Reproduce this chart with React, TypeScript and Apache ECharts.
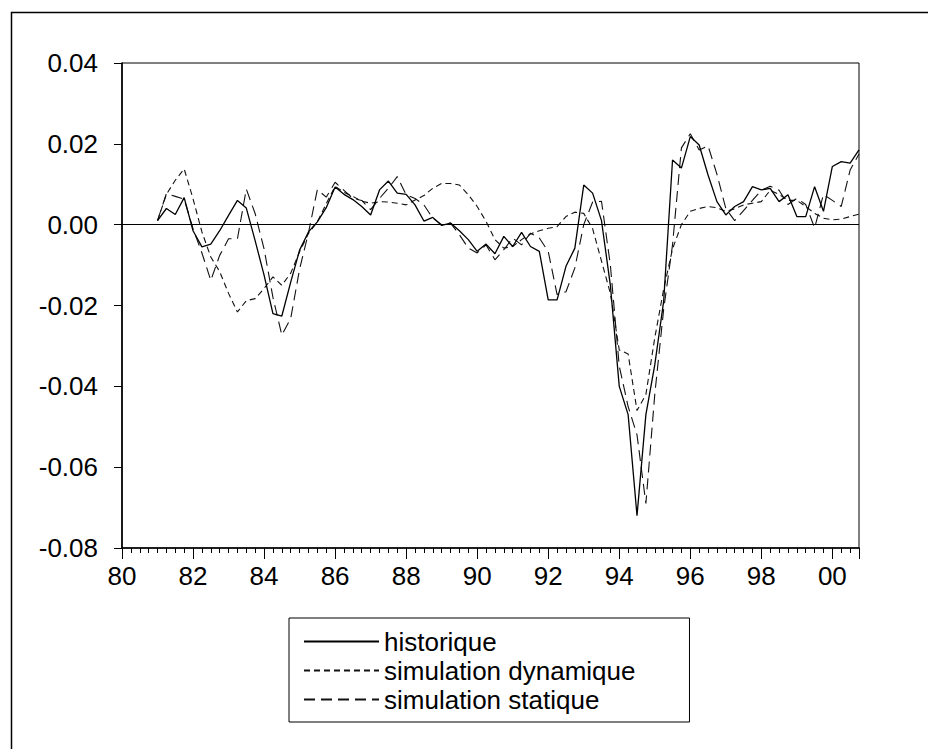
import React, { useEffect, useRef } from "react";
import * as echarts from "echarts";

// Quarterly observations, 1981Q1 – 2000Q4
const quarters: string[] = [];
for (let y = 1981; y <= 2000; y++) {
  for (let q = 1; q <= 4; q++) quarters.push(`${y}Q${q}`);
}

const historique = [
  0.001, 0.004, 0.0025, 0.0067, -0.0015, -0.0055, -0.0048, -0.0015,
  0.0023, 0.006, 0.0041, -0.004, -0.0125, -0.022, -0.0226, -0.0142,
  -0.0063, -0.0018, 0.0007, 0.0042, 0.0093, 0.0075, 0.0062, 0.0045,
  0.0024, 0.0086, 0.0108, 0.0078, 0.0075, 0.0049, 0.0009, 0.0018,
  -0.0002, 0.0004, -0.0015, -0.0037, -0.0066, -0.0048, -0.0072, -0.0029,
  -0.0054, -0.0019, -0.0054, -0.0066, -0.0186, -0.0186, -0.0103, -0.0058,
  0.0098, 0.0078, 0.001, -0.015, -0.04, -0.047, -0.072, -0.047,
  -0.0347, -0.019, 0.016, 0.014, 0.0218, 0.0197, 0.0123, 0.0057,
  0.0024, 0.0045, 0.0057, 0.0094, 0.0086, 0.009, 0.0057, 0.0074,
  0.002, 0.002, 0.0094, 0.0033, 0.0144, 0.0156, 0.0152, 0.0185,
];

const simDynamique = [
  0.001, 0.0075, 0.011, 0.0138, 0.0064, -0.0018, -0.008, -0.0116,
  -0.017, -0.0216, -0.0188, -0.0183, -0.0158, -0.0129, -0.015, -0.012,
  -0.0067, -0.0022, 0.0007, 0.0052, 0.0095, 0.008, 0.007, 0.0058,
  0.0053, 0.0057, 0.0056, 0.0053, 0.0049, 0.0061, 0.0072, 0.009,
  0.0102, 0.0102, 0.0098, 0.0074, 0.0045, 0.0008, -0.0037, -0.0058,
  -0.0054, -0.0037, -0.0023, -0.0015, -0.0009, -0.0005, 0.002, 0.0031,
  0.0028, -0.001, -0.009, -0.017, -0.031, -0.032, -0.046, -0.042,
  -0.028, -0.016, -0.006, 0.0, 0.0033, 0.004, 0.0045, 0.0042,
  0.0033, 0.0039, 0.0049, 0.0053, 0.0057, 0.0085, 0.0075, 0.006,
  0.006, 0.0045, 0.0028, 0.0016, 0.0012, 0.0014, 0.002, 0.0026,
];

const simStatique = [
  0.001, 0.0077, 0.007, 0.0063, -0.001, -0.007, -0.0138, -0.0076,
  -0.0035, -0.0035, 0.0088, 0.0027, -0.006, -0.018, -0.0273, -0.0232,
  -0.011, -0.002, 0.0087, 0.0068, 0.0105, 0.0085, 0.0065, 0.006,
  0.0037, 0.0065, 0.009, 0.0119, 0.0074, 0.0065, 0.0049, 0.0016,
  0.0, 0.0004, -0.0025, -0.0058, -0.007, -0.005, -0.0087, -0.0062,
  -0.0033, -0.005, -0.0021, -0.0033, -0.0066, -0.0173, -0.0166, -0.0107,
  0.0, 0.0056, 0.0058, -0.01, -0.035, -0.045, -0.052, -0.069,
  -0.042, -0.021, -0.005, 0.019, 0.0225, 0.0185, 0.0195, 0.0125,
  0.004, 0.001, 0.0035, 0.006, 0.0085, 0.0095, 0.0085, 0.005,
  0.0065, 0.005, -0.0008, 0.0075, 0.006, 0.0045, 0.0135, 0.0175,
];

const seriesNames = ["historique", "simulation dynamique", "simulation statique"];
const yTicks = [-0.08, -0.06, -0.04, -0.02, 0.0, 0.02, 0.04];

const FONT = "Liberation Sans, Arial, sans-serif";

// "1987Q3" -> 1987.5
const quarterToX = (label: string) => {
  const [y, q] = label.split("Q");
  return Number(y) + (Number(q) - 1) / 4;
};

const pairs = (values: number[]) => quarters.map((qt, i) => [quarterToX(qt), values[i]]);

export default function App() {
  const ref = useRef<HTMLDivElement>(null);

  useEffect(() => {
    if (!ref.current) return;
    const chart = echarts.init(ref.current, undefined, { renderer: "svg" });

    chart.setOption({
      animation: false,
      backgroundColor: "#ffffff",
      grid: {
        left: 122,
        top: 63,
        right: 69,
        bottom: 201,
        show: true,
        borderColor: "#000",
        borderWidth: 1,
        backgroundColor: "transparent",
      },
      xAxis: {
        type: "value",
        min: 1980,
        max: 2000.75,
        interval: 2,
        axisLine: { show: true, onZero: false, lineStyle: { color: "#000", width: 1.6 } },
        axisTick: { show: true, length: 11, lineStyle: { color: "#000", width: 1 } },
        minorTick: { show: true, splitNumber: 8, length: 5, lineStyle: { color: "#000", width: 1 } },
        splitLine: { show: false },
        axisLabel: {
          margin: 15,
          color: "#000",
          fontFamily: FONT,
          fontSize: 26,
          showMaxLabel: false,
          formatter: (v: number) => (Number.isInteger(v) ? String(v % 100).padStart(2, "0") : ""),
        },
      },
      yAxis: {
        type: "value",
        min: yTicks[0],
        max: yTicks[yTicks.length - 1],
        interval: 0.02,
        axisLine: { show: true, lineStyle: { color: "#000", width: 1.6 } },
        axisTick: { show: true, length: 8, lineStyle: { color: "#000", width: 1 } },
        splitLine: { show: false },
        axisLabel: {
          margin: 24,
          color: "#000",
          fontFamily: FONT,
          fontSize: 26,
          formatter: (v: number) => v.toFixed(2),
        },
      },
      legend: {
        orient: "vertical",
        left: 289,
        top: 618,
        data: seriesNames,
        itemWidth: 75,
        itemHeight: 14,
        itemGap: 0,
        padding: [9, 54, 8, 14],
        borderColor: "#000",
        borderWidth: 1,
        backgroundColor: "#fff",
        itemStyle: { opacity: 0 },
        textStyle: { color: "#000", fontFamily: FONT, fontSize: 26, lineHeight: 29 },
      },
      graphic: [
        {
          type: "polyline",
          shape: { points: [[11.5, 749], [11.5, 12.5], [928, 12.5]] },
          style: { stroke: "#000", lineWidth: 1.5, fill: "none" },
          silent: true,
        },
      ],
      series: [
        {
          name: seriesNames[0],
          type: "line",
          data: pairs(historique),
          symbol: "none",
          showSymbol: false,
          lineStyle: { color: "#000", width: 1.3, type: "solid" },
          itemStyle: { color: "#000" },
          markLine: {
            silent: true,
            symbol: ["none", "none"],
            label: { show: false },
            lineStyle: { color: "#000", width: 1, type: "solid" },
            data: [{ yAxis: 0 }],
          },
          z: 3,
        },
        {
          name: seriesNames[1],
          type: "line",
          data: pairs(simDynamique),
          symbol: "none",
          showSymbol: false,
          lineStyle: { color: "#111", width: 1.1, type: [6, 4] },
          itemStyle: { color: "#111" },
          z: 2,
        },
        {
          name: seriesNames[2],
          type: "line",
          data: pairs(simStatique),
          symbol: "none",
          showSymbol: false,
          lineStyle: { color: "#111", width: 1.1, type: [11, 6] },
          itemStyle: { color: "#111" },
          z: 2,
        },
      ],
    });

    return () => chart.dispose();
  }, []);

  return (
    <div
      ref={ref}
      style={{ position: "fixed", left: 0, top: 0, width: 928, height: 749, background: "#fff" }}
    />
  );
}
